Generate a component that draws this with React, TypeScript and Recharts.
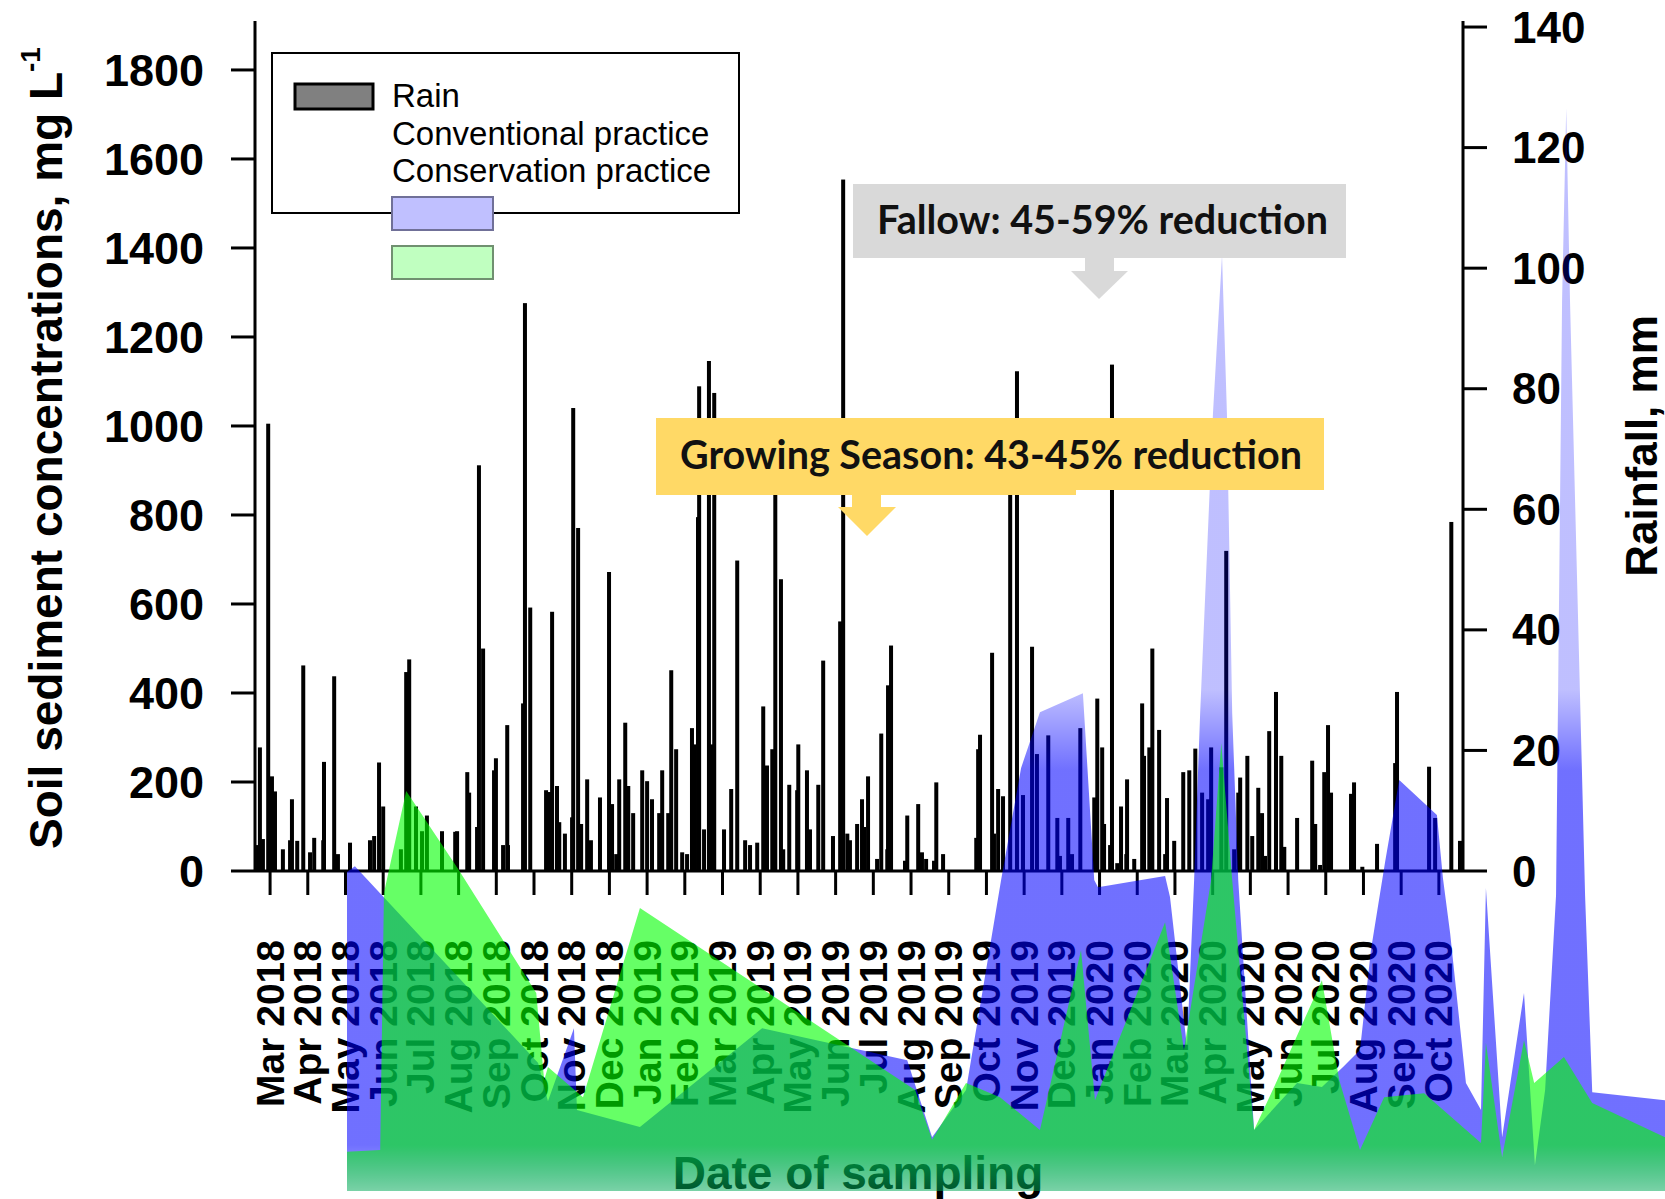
import React from 'react';
import { ComposedChart, Bar, Line, Area, XAxis, YAxis } from 'recharts';

// x positions are in months since Mar 2018 (0 = Mar 2018, 31 = Oct 2020)
const monthLabels = [
  'Mar 2018', 'Apr 2018', 'May 2018', 'Jun 2018', 'Jul 2018', 'Aug 2018', 'Sep 2018', 'Oct 2018',
  'Nov 2018', 'Dec 2018', 'Jan 2019', 'Feb 2019', 'Mar 2019', 'Apr 2019', 'May 2019', 'Jun 2019',
  'Jul 2019', 'Aug 2019', 'Sep 2019', 'Oct 2019', 'Nov 2019', 'Dec 2019', 'Jan 2020', 'Feb 2020',
  'Mar 2020', 'Apr 2020', 'May 2020', 'Jun 2020', 'Jul 2020', 'Aug 2020', 'Sep 2020', 'Oct 2020',
];
const monthTicks = monthLabels.map((_, i) => i);
const leftTicks = [0, 200, 400, 600, 800, 1000, 1200, 1400, 1600, 1800];
const rightTicks = [0, 20, 40, 60, 80, 100, 120, 140];

// daily rainfall, mm: [month position, mm]
const rainfall: [number, number][] = [
  [-0.32, 4.3], [-0.27, 20.5], [-0.19, 5.3], [-0.05, 74.2], [0.05, 15.7], [0.13, 13.2], [0.34, 3.6],
  [0.53, 5.1], [0.58, 11.9], [0.72, 5], [0.88, 34.1], [1.06, 3.1], [1.17, 5.5], [1.41, 5.1], [1.43, 18.1],
  [1.7, 32.3], [1.8, 2.8], [2.12, 4.7], [2.65, 5.1], [2.76, 5.8], [2.89, 18], [3.0, 10.7], [3.47, 3.6],
  [3.61, 33], [3.69, 35.1], [3.87, 10.7], [4.03, 6.6], [4.16, 9.2], [4.56, 6.6], [4.91, 6.5],
  [4.96, 6.6], [5.23, 16.4], [5.28, 13], [5.49, 7.3], [5.54, 67.3], [5.65, 36.9], [5.94, 16.7],
  [5.99, 18.7], [6.18, 4.3], [6.29, 24.2], [6.31, 4.3], [6.71, 27.8], [6.76, 94.2], [6.9, 43.7],
  [7.32, 13.4], [7.4, 13.1], [7.48, 43], [7.61, 14.1], [7.67, 8.1], [7.82, 6.2], [8.01, 8.9],
  [8.04, 76.8], [8.17, 56.9], [8.25, 7.8], [8.41, 15.2], [8.51, 5.1], [8.75, 12.2], [8.99, 49.6],
  [9.07, 11.1], [9.18, 2.8], [9.26, 15.2], [9.42, 24.6], [9.5, 14.1], [9.63, 9.6], [9.87, 16.7],
  [10.0, 14.9], [10.13, 11.9], [10.32, 9.6], [10.4, 16.7], [10.56, 9.6], [10.64, 33.3], [10.77, 20.2],
  [10.93, 3.1], [11.06, 2.8], [11.19, 23.7], [11.25, 21], [11.35, 58.7], [11.38, 80.4], [11.51, 6.9],
  [11.64, 84.6], [11.72, 21], [11.78, 79.3], [12.04, 6.9], [12.23, 13.6], [12.39, 51.5], [12.6, 5.1],
  [12.73, 4.3], [12.92, 4.7], [13.08, 27.3], [13.18, 17.5], [13.32, 20.2], [13.4, 68], [13.55, 48.4],
  [13.61, 3.6], [13.77, 14.3], [13.98, 13.4], [14.01, 21], [14.24, 16.7], [14.32, 6.9], [14.54, 14.3],
  [14.67, 34.9], [14.93, 5.8], [15.12, 41.4], [15.2, 114.7], [15.31, 6.2], [15.38, 5.1], [15.57, 7.8],
  [15.7, 11.9], [15.76, 7.3], [15.86, 15.7], [16.1, 2], [16.21, 22.8], [16.37, 3.6], [16.39, 30.8],
  [16.47, 37.4], [16.84, 1.7], [16.9, 9.2], [17.19, 11.1], [17.29, 3.1], [17.4, 2], [17.61, 1.7],
  [17.67, 14.7], [17.85, 2.8], [18.73, 5.5], [18.78, 20.2], [18.83, 22.6], [19.15, 36.2], [19.2, 6.2],
  [19.31, 13.6], [19.44, 12.4], [19.63, 75], [19.81, 82.9], [19.97, 12.6], [20.21, 37.2], [20.34, 19.4],
  [20.64, 22.5], [20.88, 8.8], [20.95, 2.5], [21.17, 8.8], [21.27, 2.8], [21.49, 23.7], [21.86, 12.2],
  [21.94, 28.6], [22.07, 20.5], [22.12, 7.8], [22.28, 4.3], [22.33, 84], [22.47, 1.3], [22.57, 10.7],
  [22.71, 2.8], [22.73, 15.2], [22.92, 2], [23.13, 27.8], [23.18, 19.1], [23.32, 20.5], [23.4, 36.9],
  [23.58, 23.4], [23.74, 2.8], [23.79, 12.1], [23.98, 5], [24.22, 16.4], [24.38, 16.7], [24.54, 20.3],
  [24.72, 13], [24.88, 11.9], [24.96, 20.5], [25.23, 17.2], [25.36, 53.1], [25.57, 3.6], [25.68, 13],
  [25.73, 15.5], [25.92, 19.1], [26.05, 5.8], [26.21, 13.8], [26.31, 9.6], [26.39, 2.5], [26.5, 23.2],
  [26.68, 29.7], [26.82, 19.1], [26.9, 4], [27.24, 8.8], [27.64, 18.3], [27.72, 7.8], [27.85, 1],
  [27.96, 16.4], [28.06, 24.2], [28.14, 13], [28.67, 12.8], [28.75, 14.7], [28.97, 0.7], [29.36, 4.5],
  [29.84, 17.9], [29.89, 29.7], [30.74, 17.3], [30.9, 8.8], [31.33, 57.9], [31.56, 5],
];

// soil sediment concentrations, mg/L: [month position, value]
const conventional: [number, number][] = [
  [2.04, 717], [2.25, 730], [7.11, 288], [7.37, 202], [8.06, 366], [8.14, 182], [9.81, 144],
  [13.05, 366], [16.9, 294], [17.56, 121], [18.46, 227], [19.39, 699], [19.92, 951], [20.42, 1076],
  [21.56, 1119], [21.86, 699], [21.96, 683], [23.74, 708], [23.87, 661], [24.32, 324], [24.51, 699],
  [24.67, 1074], [25.01, 1748], [25.25, 2103], [25.38, 1748], [25.52, 1074], [25.68, 699], [26.1, 137],
  [27.24, 243], [27.9, 234], [28.46, 279], [28.91, 317], [29.2, 542], [29.58, 742], [29.95, 924],
  [30.95, 845], [31.11, 703], [31.3, 580], [31.72, 243], [32.12, 182], [32.25, 681], [32.68, 121],
  [33.26, 445], [33.55, 58], [33.82, 227], [34.11, 665], [34.27, 2002], [34.38, 2434], [34.48, 2002],
  [34.88, 665], [35.07, 222], [37.0, 204],
];
const conservation: [number, number][] = [
  [2.04, 88], [2.92, 92], [3.02, 670], [3.61, 899], [5.01, 721], [7.06, 445], [7.27, 249], [7.37, 279],
  [8.3, 211], [9.81, 636], [17.11, 227], [17.56, 115], [18.46, 243], [19.36, 211], [20.42, 137],
  [21.51, 542], [21.88, 204], [23.74, 604], [24.24, 317], [24.96, 699], [25.23, 1007], [25.52, 699],
  [26.1, 137], [26.68, 243], [27.9, 474], [28.36, 249], [28.91, 92], [29.55, 211], [30.61, 220],
  [32.12, 108], [32.25, 333], [32.68, 76], [33.26, 339], [33.53, 243], [34.32, 301], [35.07, 198],
  [37.0, 121],
];

const rainData = rainfall.map(([m, rain]) => ({ m, rain }));
const convMap = new Map(conventional);
const consMap = new Map(conservation);
const sedimentData = Array.from(new Set([...convMap.keys(), ...consMap.keys()]))
  .sort((a, b) => a - b)
  .map((m) => ({ m, conv: convMap.get(m) ?? null, cons: consMap.get(m) ?? null }));

const FONT = '"Liberation Sans", Arial, sans-serif';
const CALLOUT = 'Lato, "Open Sans", sans-serif';

const MonthTick = (props: any) => {
  const { x, y, payload } = props;
  return (
    <text
      x={x}
      y={y}
      transform={`rotate(-90 ${x} ${y})`}
      textAnchor="end"
      dominantBaseline="central"
      fontFamily={FONT}
      fontWeight={700}
      fontSize={39}
      fill="#000"
    >
      {monthLabels[payload.value]}
    </text>
  );
};

// thin black rain bar, fixed width, centred on its date
const RainBar = (props: any) => {
  const { x, y, width, height } = props;
  if (!height || height <= 0) return null;
  return <rect x={x + width / 2 - 2} y={y} width={4} height={height} fill="#000" />;
};

const layer: React.CSSProperties = { position: 'absolute', left: 0, top: 0, pointerEvents: 'none' };

export default function App() {
  return (
    <div style={{ position: 'relative', width: 1665, height: 1199, background: '#fff' }}>
      <style>{'body{margin:0}'}</style>

      <div style={layer}>
        <ComposedChart width={1665} height={1199} data={rainData} margin={{ top: 21, right: 52, left: 105, bottom: 28 }}>
          <XAxis
            dataKey="m"
            type="number"
            domain={[-0.4, 31.64]}
            ticks={monthTicks}
            interval={0}
            height={300}
            tickSize={24}
            tickMargin={45}
            tick={<MonthTick />}
            axisLine={{ stroke: '#000', strokeWidth: 3 }}
            tickLine={{ stroke: '#000', strokeWidth: 3 }}
            allowDataOverflow
          />
          <XAxis
            xAxisId="top"
            orientation="top"
            dataKey="m"
            type="number"
            domain={[-0.4, 31.64]}
            height={0}
            tick={false}
            tickLine={false}
            axisLine={{ stroke: '#000', strokeWidth: 3 }}
          />
          <YAxis
            yAxisId="left"
            type="number"
            domain={[0, 1910]}
            ticks={leftTicks}
            interval={0}
            width={150}
            tickSize={24}
            tickMargin={27}
            tick={{ fill: '#000', fontSize: 45, fontWeight: 700, fontFamily: FONT }}
            axisLine={{ stroke: '#000', strokeWidth: 3 }}
            tickLine={{ stroke: '#000', strokeWidth: 3 }}
            allowDataOverflow
          />
          <YAxis
            yAxisId="right"
            orientation="right"
            type="number"
            domain={[0, 141]}
            ticks={rightTicks}
            interval={0}
            width={150}
            tickSize={24}
            tickMargin={25}
            tick={{ fill: '#000', fontSize: 44, fontWeight: 700, fontFamily: FONT }}
            axisLine={{ stroke: '#000', strokeWidth: 3 }}
            tickLine={{ stroke: '#000', strokeWidth: 3 }}
            allowDataOverflow
          />
          {/* invisible series so the concentration axis gets its scale and ticks */}
          <Line
            yAxisId="left"
            dataKey="rain"
            stroke="none"
            dot={false}
            activeDot={false}
            legendType="none"
            isAnimationActive={false}
          />
          <Bar dataKey="rain" name="Rain" yAxisId="right" fill="#000" shape={<RainBar />} isAnimationActive={false} />
        </ComposedChart>
      </div>

      {/* axis titles, under the sediment areas */}
      <svg style={layer} width={1665} height={1199}>
        <text
          x={46}
          y={448}
          transform="rotate(-90 46 448)"
          textAnchor="middle"
          dominantBaseline="central"
          fontFamily={FONT}
          fontWeight={700}
          fontSize={46}
        >
          <tspan>Soil sediment concentrations, mg L</tspan>
          <tspan dy={-16} fontSize={28}>-1</tspan>
        </text>
        <text
          x={1641}
          y={446}
          transform="rotate(-90 1641 446)"
          textAnchor="middle"
          dominantBaseline="central"
          fontFamily={FONT}
          fontWeight={700}
          fontSize={44}
        >
          Rainfall, mm
        </text>
        <text x={858} y={1189} textAnchor="middle" fontFamily={FONT} fontWeight={700} fontSize={46}>
          Date of sampling
        </text>
      </svg>

      <div style={layer}>
        <ComposedChart width={1665} height={1199} data={sedimentData} margin={{ top: 21, right: 0, left: 347, bottom: 8 }}>
          <defs>
            <linearGradient id="convFill" gradientUnits="userSpaceOnUse" x1="0" y1="0" x2="0" y2="1199">
              <stop offset="0" stopColor="#0000ff" stopOpacity={0.25} />
              <stop offset="0.575" stopColor="#0000ff" stopOpacity={0.25} />
              <stop offset="0.642" stopColor="#0000ff" stopOpacity={0.56} />
              <stop offset="0.955" stopColor="#0000ff" stopOpacity={0.56} />
              <stop offset="1" stopColor="#0000ff" stopOpacity={0.22} />
            </linearGradient>
            <linearGradient id="consFill" gradientUnits="userSpaceOnUse" x1="0" y1="0" x2="0" y2="1199">
              <stop offset="0" stopColor="#00ff00" stopOpacity={0.6} />
              <stop offset="0.955" stopColor="#00ff00" stopOpacity={0.6} />
              <stop offset="1" stopColor="#00ff00" stopOpacity={0.3} />
            </linearGradient>
          </defs>
          <XAxis dataKey="m" type="number" domain={[2.04, 37]} hide />
          <YAxis type="number" domain={[0, 2630]} hide />
          <Area
            dataKey="conv"
            name="Conventional practice"
            type="linear"
            stroke="none"
            fill="url(#convFill)"
            fillOpacity={1}
            connectNulls
            isAnimationActive={false}
          />
          <Area
            dataKey="cons"
            name="Conservation practice"
            type="linear"
            stroke="none"
            fill="url(#consFill)"
            fillOpacity={1}
            connectNulls
            isAnimationActive={false}
          />
        </ComposedChart>
      </div>

      {/* legend and callouts */}
      <svg style={layer} width={1665} height={1199}>
        <rect x={272} y={53} width={467} height={160} fill="#fff" stroke="#000" strokeWidth={2} />
        <rect x={295} y={84} width={78} height={25} fill="#808080" stroke="#000" strokeWidth={3} />
        <text x={392} y={107} fontFamily={FONT} fontSize={33}>Rain</text>
        <text x={392} y={145} fontFamily={FONT} fontSize={33}>Conventional practice</text>
        <text x={392} y={182} fontFamily={FONT} fontSize={33}>Conservation practice</text>
        <rect x={392} y={197} width={101} height={33} fill="#c0c0ff" stroke="#707098" strokeWidth={2} />
        <rect x={392} y={246} width={101} height={33} fill="#c0ffc0" stroke="#709070" strokeWidth={2} />

        <rect x={853} y={184} width={493} height={74} fill="#d9d9d9" />
        <rect x={1085} y={257} width={29} height={15} fill="#d9d9d9" />
        <polygon points="1071,271 1128,271 1099,299" fill="#d9d9d9" />
        <text x={877} y={234} fontFamily={CALLOUT} fontWeight={700} fontSize={39.5} fill="#111">
          Fallow: 45-59% reduction
        </text>

        <rect x={656} y={418} width={668} height={72} fill="#ffd966" />
        <rect x={656} y={489} width={420} height={6} fill="#ffd966" />
        <rect x={852} y={494} width={29} height={14} fill="#ffd966" />
        <polygon points="838,507 896,507 867,536" fill="#ffd966" />
        <text x={680} y={469} fontFamily={CALLOUT} fontWeight={700} fontSize={39.5} fill="#111">
          Growing Season: 43-45% reduction
        </text>
      </svg>
    </div>
  );
}
